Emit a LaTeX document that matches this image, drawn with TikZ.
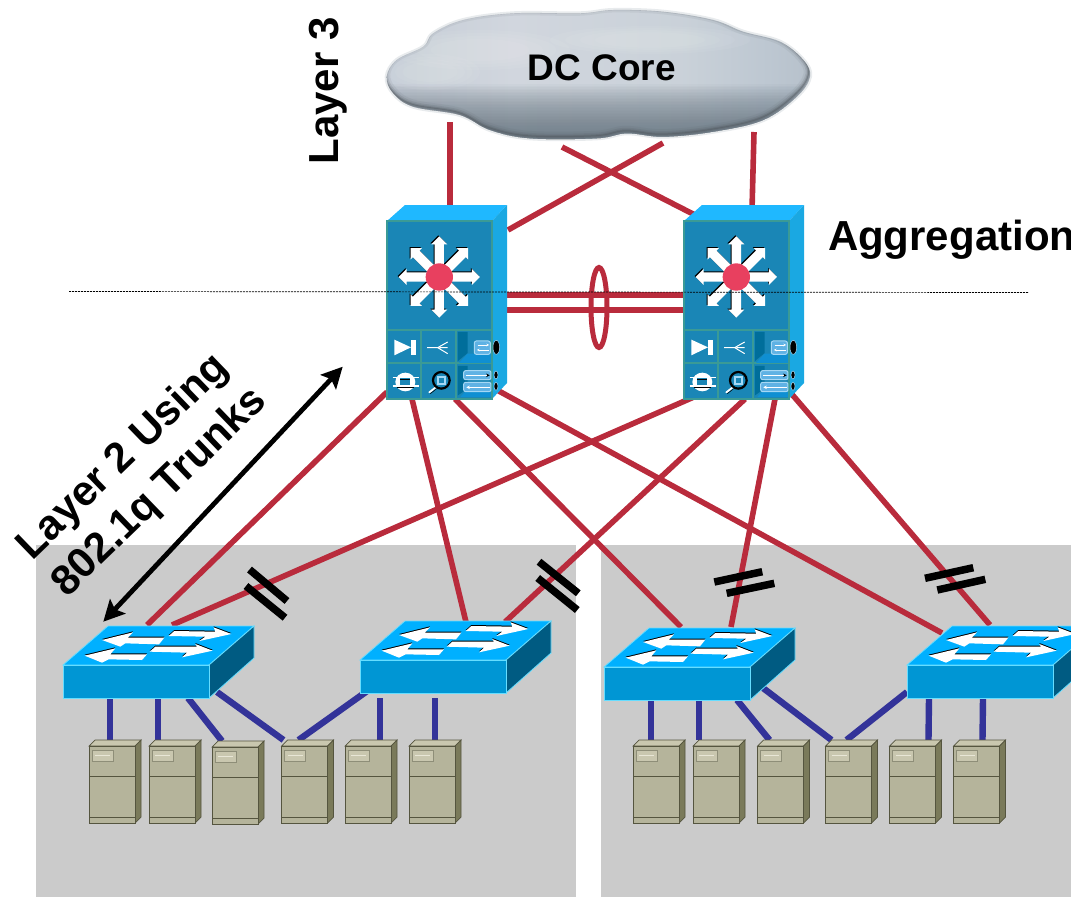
\documentclass[tikz,border=0pt]{standalone}
\usepackage{fontspec}
\setmainfont{Liberation Sans}
\usetikzlibrary{arrows.meta,shapes.geometric}
\definecolor{panelgray}{HTML}{CBCBCB}
\definecolor{linkred}{HTML}{B92B3C}
\definecolor{linkblue}{HTML}{333399}
\definecolor{aggfront}{HTML}{1A86B6}
\definecolor{aggedge}{HTML}{3A9A96}
\definecolor{aggtop}{HTML}{1FB8FF}
\definecolor{aggside}{HTML}{1AA8E2}
\definecolor{aggdark}{HTML}{006E9B}
\definecolor{aggfloor}{HTML}{0F8FD2}
\definecolor{aggpale}{HTML}{A5D8F5}
\definecolor{aggbox}{HTML}{5FB2E4}
\definecolor{starred}{HTML}{E8405F}
\definecolor{swtop}{HTML}{00B0FF}
\definecolor{swfront}{HTML}{0096D4}
\definecolor{swside}{HTML}{005B82}
\definecolor{swedge}{HTML}{66DDFF}
\definecolor{srvfront}{HTML}{B5B49B}
\definecolor{srvtop}{HTML}{C9C7AF}
\definecolor{srvside}{HTML}{7A7A5A}
\definecolor{srvedge}{HTML}{55553F}
\definecolor{srvplate}{HTML}{8E8E78}
\definecolor{srvline}{HTML}{E8E6D6}
\definecolor{cloudhalo}{HTML}{E8EBED}
\definecolor{clouddark}{HTML}{64737F}
\definecolor{cloudrim}{HTML}{4E555B}
\pgfdeclarehorizontalshading{cloudh}{100bp}{
 rgb(0bp)=(.76,.80,.84); rgb(25bp)=(.77,.80,.84); rgb(40bp)=(.82,.84,.87); rgb(60bp)=(.79,.82,.85); rgb(70bp)=(.74,.78,.82); rgb(78bp)=(.70,.74,.78); rgb(85bp)=(.56,.62,.67); rgb(100bp)=(.46,.52,.58)}
\tikzset{
 anchorbox/.style={rectangle,inner sep=0pt,outer sep=0pt,anchor=north west},
 redlink/.style={draw=linkred,line width=5.6pt},
 redthick/.style={draw=linkred,line width=6pt},
 bluelink/.style={draw=linkblue,line width=6.4pt},
 gapbar/.style={draw=black,line width=7.5pt},
 lab/.style={font=\fontsize{42}{46}\selectfont\bfseries,inner sep=0pt,outer sep=0pt},
 zoomagg/.style={x=.3333pt,y=-.3333pt,shift={(-20,-62)}},
 zoomsw/.style={x=.3333pt,y=-.3333pt,shift={(-38,-165)}},
}
\def\cloudpath{plot[smooth cycle,tension=.6] coordinates {(386.7,76.7)(396.7,60)(423.3,46.7)(433.3,33.3)(463.3,20)(513.3,13.3)(580,13.3)(613.3,10)(663.3,11.7)(713.3,20)(743.3,31.7)(780,41.7)(803.3,60)(810,76.7)(796.7,96.7)(763.3,120)(713.3,131.7)(663.3,136.7)(626.7,133.3)(596.7,138.3)(530,138.3)(490,130)(460,115)(413.3,106.7)(393.3,93.3)}}
\def\stararrowpath{(35,-14)--(98,-14)--(98,-24)--(122,0)--(98,24)--(98,14)--(35,14)--cycle}
\newcommand\stararrow[1]{\begin{scope}[shift={(177,230)},rotate=#1]\fill[white] \stararrowpath;\end{scope}}
\newcommand\stararrowb[1]{\begin{scope}[shift={(174,227)},rotate=#1]\fill[black] \stararrowpath;\end{scope}}
\newcommand\aggdev[1]{%
 \begin{scope}[shift={(#1.north west)}]
  \fill[aggtop] (0,0)--(18,-16)--(120,-16)--(105,0)--cycle;
  \fill[aggside] (105,0)--(120,-16)--(120,162)--(105,178)--cycle;
  \filldraw[fill=aggfront,draw=aggedge,line width=2pt] (0,0) rectangle (105,178);
  \draw[aggedge,line width=1.6pt] (0,109)--(105,109) (0,142)--(105,142) (34,109)--(34,178) (69,109)--(69,178);
 \end{scope}
 \begin{scope}[shift={(#1.north west)},zoomagg]
  \foreach \a in {0,45,...,315} {\stararrowb{\a}}
  \foreach \a in {0,45,...,315} {\stararrow{\a}}
  \fill[starred] (177,230) circle (41);
  % row 1
  \fill[white] (42,418)--(92,441)--(42,465)--cycle;
  \fill[white] (92,418) rectangle (107,465);
  \draw[white,line width=1pt] (140,442)--(172,442) (172,442)--(202,425) (178,442)--(202,442) (172,442)--(202,460);
  \fill[aggdark] (233,395)--(262,395)--(262,458)--(233,482)--cycle;
  \fill[aggfloor] (262,460)--(332,460)--(332,488)--(236,488)--cycle;
  \filldraw[fill=aggbox,draw=aggpale,line width=1pt,rounded corners=2pt] (282,422) rectangle (330,462);
  \draw[white,line width=.8pt,-{Stealth[length=2.5pt,width=2.5pt]}] (292,434)--(326,434);
  \draw[white,line width=.8pt,-{Stealth[length=2.5pt,width=2.5pt]}] (326,449)--(290,449);
  \filldraw[fill=black,draw=aggpale,line width=.5pt] (348,441) ellipse (10 and 21);
  % row 2
  \fill[white] (75,545) ellipse (30 and 28);
  \fill[aggfront] (60,533) rectangle (90,556);
  \draw[white,line width=1.4pt] (37,532)--(115,532) (37,557)--(115,557);
  \draw[black,line width=.5pt] (60,536)--(90,536) (50,561)--(100,561);
  \draw[white,line width=1.8pt,line cap=round] (165,562)--(147,576);
  \draw[black,line width=.5pt] (168,566)--(150,580);
  \filldraw[fill=aggfront,draw=black,line width=2.2pt] (183,540) circle (25);
  \fill[aggpale] (170,527) rectangle (196,553);
  \fill[aggfront] (176,533) rectangle (190,547);
  \fill[aggdark] (233,497)--(262,497)--(262,565)--(233,585)--cycle;
  \fill[aggfloor] (262,565)--(332,565)--(332,590)--(240,590)--cycle;
  \filldraw[fill=aggbox,draw=aggpale,line width=1pt,rounded corners=2pt] (250,511) rectangle (332,538);
  \filldraw[fill=aggbox,draw=aggpale,line width=1pt,rounded corners=2pt] (250,546) rectangle (332,574);
  \draw[white,line width=1.2pt,-{Stealth[length=3.5pt,width=3.5pt,black]}] (258,525)--(328,525);
  \draw[white,line width=1.2pt,-{Stealth[length=3.5pt,width=3.5pt,white]}] (328,561)--(258,561);
  \filldraw[fill=black,draw=aggpale,line width=.5pt] (347,524) ellipse (6 and 12);
  \filldraw[fill=black,draw=aggpale,line width=.5pt] (347,558) ellipse (6 and 12);
 \end{scope}}
\def\swA{(155,90)--(248,67)--(232,83)--(342,83)--(326,103)--(225,100)--(210,110)--cycle}
\def\swB{(355,78)--(372,63)--(495,65)--(490,52)--(543,72)--(447,93)--(465,80)--cycle}
\def\swC{(103,137)--(195,115)--(180,133)--(290,133)--(275,150)--(175,148)--(155,158)--cycle}
\def\swD{(487,122)--(435,102)--(440,110)--(315,110)--(298,125)--(410,128)--(395,142)--cycle}
\newcommand\swdev[1]{%
 \begin{scope}[shift={(#1.north west)}]
  \filldraw[fill=swtop,draw=swedge,line width=.8pt] (0,0)--(45,-39)--(191,-39)--(146,0)--cycle;
  \filldraw[fill=swside,draw=swedge,line width=.8pt] (146,0)--(191,-39)--(191,-7)--(146,33)--cycle;
  \filldraw[fill=swfront,draw=swedge,line width=.8pt] (0,0) rectangle (146,33);
 \end{scope}
 \begin{scope}[shift={(#1.north west)},zoomsw]
  \begin{scope}[shift={(0,-3)}]
   \fill[black] \swA; \fill[black] \swB; \fill[black] \swC; \fill[black] \swD;
  \end{scope}
  \fill[white] \swA; \fill[white] \swB; \fill[white] \swC; \fill[white] \swD;
 \end{scope}}
\newcommand\srvdev[1]{%
 \begin{scope}[shift={(#1.north west)}]
  \filldraw[fill=srvtop,draw=srvedge,line width=.7pt] (0,0)--(6,-6)--(52,-6)--(46,0)--cycle;
  \filldraw[fill=srvside,draw=srvedge,line width=.7pt] (46,0)--(52,-6)--(52,71)--(46,77)--cycle;
  \filldraw[fill=srvfront,draw=srvedge,line width=.8pt] (0,0) rectangle (46,77);
  \draw[srvedge,line width=.7pt] (0,30)--(46,30) (0,71)--(46,71);
  \filldraw[fill=srvtop,draw=srvplate,line width=.8pt] (3,4.5) rectangle (24,15);
  \draw[srvline,line width=.7pt] (6,9.7)--(21,9.7);
 \end{scope}}
\begin{document}
\begin{tikzpicture}[x=1pt,y=-1pt]
\useasboundingbox (0,0) rectangle (1071,897);
\clip (0,0) rectangle (1071,897);
% panels
\node[anchorbox,fill=panelgray,minimum width=540pt,minimum height=352pt] (panelL) at (36,545) {};
\node[anchorbox,fill=panelgray,minimum width=470pt,minimum height=352pt] (panelR) at (601,545) {};
% named devices
\node[inner sep=0pt] (core) at (602,68) {};
\node[anchorbox,minimum width=105pt,minimum height=178pt] (a1) at (387,221) {};
\node[anchorbox,minimum width=105pt,minimum height=178pt] (a2) at (684,221) {};
\node[anchorbox,minimum width=146pt,minimum height=33pt] (s1) at (63,665) {};
\node[anchorbox,minimum width=146pt,minimum height=33pt] (s2) at (360,660) {};
\node[anchorbox,minimum width=146pt,minimum height=33pt] (s3) at (604,667) {};
\node[anchorbox,minimum width=146pt,minimum height=33pt] (s4) at (907,665) {};
\foreach \n/\x/\y in {sa/89/746,sb/149/746,sc/212/747,sd/281.5/746,se/345/746,sf/409/746,
                      sg/633/746,sh/693/746,si/757.5/746,sj/825.5/746,sk/889.5/746,sl/953.5/746}
  \node[anchorbox,minimum width=46pt,minimum height=77pt] (\n) at (\x,\y) {};
% core links
\draw[redlink] ([shift={(-152,54)}]core.center) -- ([shift={(63,-11)}]a1.north west);
\draw[redlink] ([shift={(152,64)}]core.center) -- ([shift={(68,-11)}]a2.north west);
\draw[redlink] ([shift={(61,75)}]core.center) -- ([shift={(121,9)}]a1.north west);
\draw[redlink] ([shift={(-40,79)}]core.center) -- ([shift={(11,-6)}]a2.north west);
% inter-agg links
\draw[redthick] ([shift={(120,74)}]a1.north west) -- ([shift={(0,74)}]a2.north west);
\draw[redthick] ([shift={(120,89)}]a1.north west) -- ([shift={(0,89)}]a2.north west);
\node[ellipse,draw=linkred,line width=5pt,inner sep=0pt,minimum width=16pt,minimum height=80pt] (lag) at (599,307.5) {};
% downlinks
\draw[redlink] ([shift={(0,-7)}]a1.south west) -- ([shift={(84,-40)}]s1.north west);
\draw[redlink] ([shift={(25,0)}]a1.south west) -- ([shift={(106,-38)}]s2.north west);
\draw[redlink] ([shift={(68,0)}]a1.south west) -- ([shift={(77,-40)}]s3.north west);
\draw[redlink] ([shift={(110,-9)}]a1.south west) -- ([shift={(35,-32)}]s4.north west);
\draw[redlink] ([shift={(19,-6)}]a2.south west) -- ([shift={(109,-40)}]s1.north west);
\draw[redlink] ([shift={(61,0)}]a2.south west) -- ([shift={(145,-38)}]s2.north west);
\draw[redlink] ([shift={(91,0)}]a2.south west) -- ([shift={(127,-40)}]s3.north west);
\draw[redlink] ([shift={(106,-7)}]a2.south west) -- ([shift={(83,-40)}]s4.north west);
% access links
\foreach \s/\sx/\sy/\t/\tx in {s1/47/33/sa/21,s1/95/33/sb/9,s1/125/33/sc/10,s1/154/27/sd/2,
                               s2/10/29/sd/17,s2/20/38/se/35,s2/75/38/sf/26,
                               s3/47/33/sg/18,s3/95/33/sh/6,s3/133/33/si/12,s3/159/21/sj/6,
                               s4/0/27/sj/21,s4/22/33/sk/39,s4/76/33/sl/29}
  \draw[bluelink] ([shift={(\sx,\sy)}]\s.north west) -- ([shift={(\tx,-6)}]\t.north west);
% gap bars
\coordinate (barcA) at (268,593);
\draw[gapbar] ([shift={(-18.5,-23.5)}]barcA) -- ([shift={(19,8)}]barcA);
\draw[gapbar] ([shift={(-22,-7)}]barcA) -- ([shift={(17,24.7)}]barcA);
\coordinate (barcB) at (558,585);
\draw[gapbar] ([shift={(-19,-23.3)}]barcB) -- ([shift={(20.3,8.3)}]barcB);
\draw[gapbar] ([shift={(-20.3,-7)}]barcB) -- ([shift={(19.3,25)}]barcB);
\coordinate (barcC) at (744,583);
\draw[gapbar] ([shift={(-29.7,-1)}]barcC) -- ([shift={(18.3,-11.3)}]barcC);
\draw[gapbar] ([shift={(-17.3,10.3)}]barcC) -- ([shift={(30.3,0.3)}]barcC);
\coordinate (barcD) at (955,579);
\draw[gapbar] ([shift={(-30,-0.7)}]barcD) -- ([shift={(18.3,-11.3)}]barcD);
\draw[gapbar] ([shift={(-17.7,11)}]barcD) -- ([shift={(30.3,0.3)}]barcD);
% cloud
\draw[cloudhalo,line width=4pt] \cloudpath;
\begin{scope}
 \clip \cloudpath;
 \shade[shading=cloudh] (385,5) rectangle (812,142);
 \foreach \y in {84,85.5,...,134} \fill[clouddark,opacity=.038] (380,\y) rectangle (820,145);
 \foreach \r in {1,.85,.7,.55} {
  \fill[white,opacity=.05] (480,50) ellipse ({90*\r} and {20*\r});
  \fill[white,opacity=.05] (650,40) ellipse ({100*\r} and {14*\r});
  \fill[white,opacity=.05] (430,72) ellipse ({50*\r} and {18*\r});
 }
 \foreach \w/\o in {1/.35,3/.25,6/.15,10/.08}
  \draw[cloudrim,line width=\w pt,opacity=\o,shift={(-1.5,-2.5)}] \cloudpath;
\end{scope}
\node[lab,font=\fontsize{37}{40}\selectfont\bfseries] at (core) {DC Core};
% devices
\aggdev{a1}
\aggdev{a2}
\swdev{s1}\swdev{s2}\swdev{s3}\swdev{s4}
\foreach \n in {sa,sb,sc,sd,se,sf,sg,sh,si,sj,sk,sl} {\srvdev{\n}}
% arrow
\coordinate (arrA) at (342.7,366.7);
\coordinate (arrB) at (103.3,621.7);
\draw[line width=4.8pt,{Stealth[length=21pt,width=21pt,inset=4pt]}-{Stealth[length=21pt,width=21pt,inset=4pt]}] (arrB) -- (arrA);
% labels
\node[lab,rotate=90,anchor=center] (l3) at (328,91) {Layer 3};
\node[lab,anchor=base west] (agglab) at (828,250) {Aggregation};
\node[lab,rotate=44,anchor=base west] (l2a) at (32,561) {Layer 2 Using};
\node[lab,rotate=44,anchor=base west] (l2b) at (67,598) {802.1q Trunks};
% dashed divider
\coordinate (divA) at (69,291.5);
\coordinate (divB) at (1028,292.5);
\draw[black,line width=.7pt,dash pattern=on 2pt off 1pt] (divA) -- (divB);
\end{tikzpicture}
\end{document}
